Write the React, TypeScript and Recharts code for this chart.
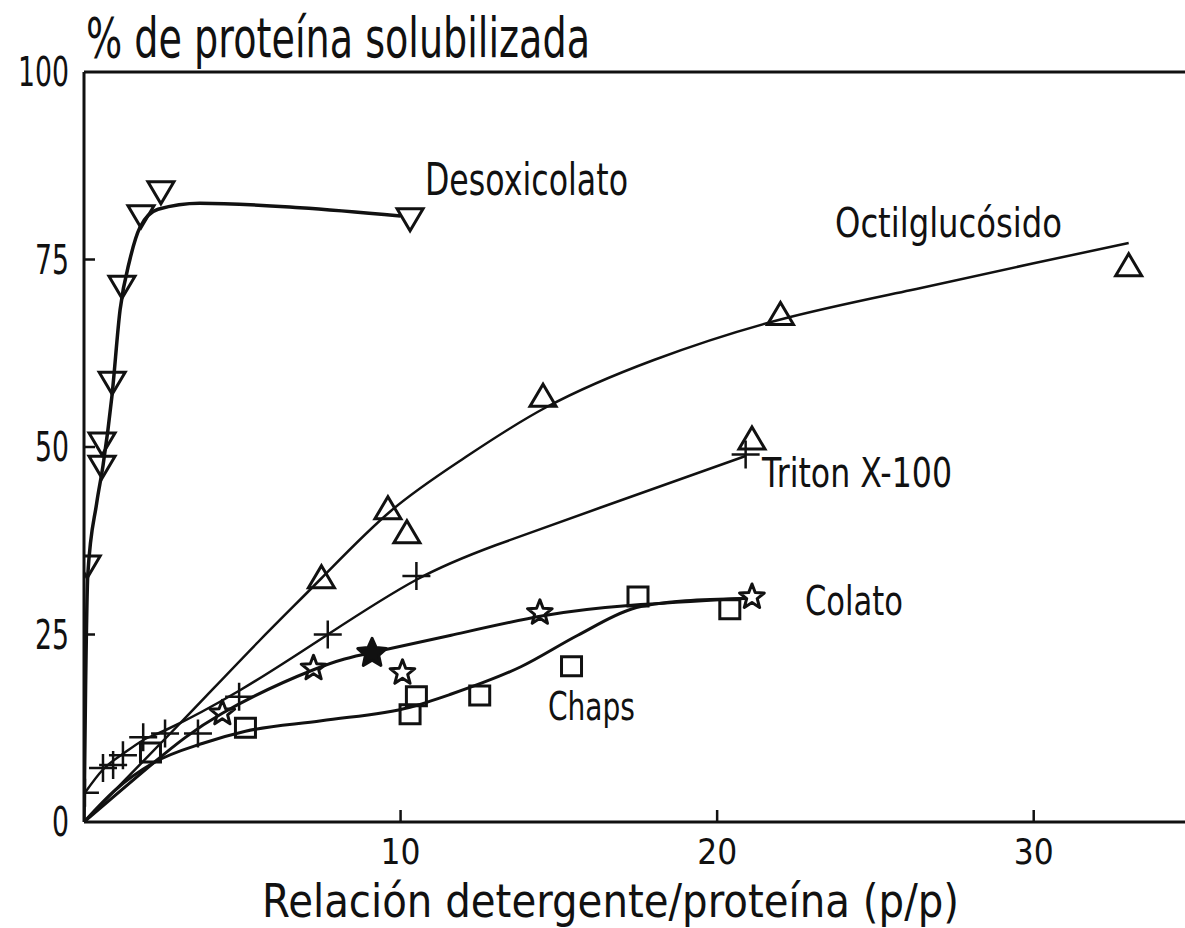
import React from 'react';
import { ComposedChart, Line, Scatter, XAxis, YAxis, ReferenceLine } from 'recharts';

// measured points (x = detergente/proteina, y = % solubilizada)
const desoxPoints = [
  { x: 0.1, y: 34 }, { x: 0.57, y: 50.4 }, { x: 0.57, y: 47.3 }, { x: 0.89, y: 58.5 },
  { x: 1.2, y: 71.3 }, { x: 1.8, y: 80.7 }, { x: 2.43, y: 83.9 }, { x: 10.3, y: 80.3 },
];
const octilPoints = [
  { x: 7.5, y: 32.7 }, { x: 9.6, y: 41.9 }, { x: 10.2, y: 38.7 }, { x: 14.5, y: 56.9 },
  { x: 21.1, y: 51.2 }, { x: 22.0, y: 67.8 }, { x: 33.0, y: 74.3 },
];
const tritonPoints = [
  { x: 0.03, y: 3.9 }, { x: 0.6, y: 7.2 }, { x: 0.92, y: 7.6 }, { x: 1.23, y: 8.9 },
  { x: 1.87, y: 11.3 }, { x: 2.56, y: 11.8 }, { x: 3.6, y: 11.8 }, { x: 4.9, y: 16.7 },
  { x: 7.7, y: 25 }, { x: 10.5, y: 32.8 }, { x: 20.9, y: 49 },
];
const colatoPoints = [
  { x: 4.37, y: 14.5 }, { x: 7.25, y: 20.5 }, { x: 10.06, y: 19.9 }, { x: 14.4, y: 27.9 }, { x: 21.1, y: 30 },
];
const colatoFilled = [{ x: 9.1, y: 22.5 }];
const chapsPoints = [
  { x: 2.1, y: 9.2 }, { x: 5.1, y: 12.5 }, { x: 10.3, y: 14.3 }, { x: 10.5, y: 16.7 },
  { x: 12.5, y: 16.8 }, { x: 15.4, y: 20.7 }, { x: 17.5, y: 30 }, { x: 20.4, y: 28.3 },
];

// hand-drawn fitted curves
const desoxCurve = [
  { x: 0, y: 0 }, { x: 0.05, y: 18 }, { x: 0.12, y: 33 }, { x: 0.4, y: 42.5 }, { x: 0.6, y: 47.5 },
  { x: 0.88, y: 56.7 }, { x: 1.14, y: 68.3 }, { x: 1.45, y: 75 }, { x: 1.77, y: 79.3 },
  { x: 2.34, y: 81.7 }, { x: 3.66, y: 82.5 }, { x: 6.82, y: 81.9 }, { x: 10.0, y: 80.8 },
];
const octilCurve = [
  { x: 0, y: 0 }, { x: 3, y: 13 }, { x: 5.5, y: 24 }, { x: 7.5, y: 32.5 }, { x: 9.7, y: 41.5 },
  { x: 12, y: 48.5 }, { x: 14.6, y: 55.3 }, { x: 18, y: 61.6 }, { x: 22, y: 67 },
  { x: 26.1, y: 70.9 }, { x: 30, y: 74.5 }, { x: 33, y: 77.2 },
];
const tritonCurve = [
  { x: 0.03, y: 3.9 }, { x: 0.6, y: 7 }, { x: 1.2, y: 9 }, { x: 1.9, y: 11 }, { x: 2.6, y: 12.3 },
  { x: 4.9, y: 17.5 }, { x: 7.7, y: 25 }, { x: 10.5, y: 32.3 }, { x: 13, y: 36.9 },
  { x: 16.3, y: 41.9 }, { x: 20.9, y: 48.8 },
];
const colatoCurve = [
  { x: 0, y: 0 }, { x: 2.2, y: 7.9 }, { x: 4.37, y: 14.5 }, { x: 7.25, y: 20.3 },
  { x: 9.1, y: 22.6 }, { x: 11.6, y: 24.9 }, { x: 14.5, y: 27.5 }, { x: 17.3, y: 28.9 }, { x: 20.8, y: 29.8 },
];
const chapsCurve = [
  { x: 0, y: 0 }, { x: 1, y: 4.3 }, { x: 2.2, y: 7.9 }, { x: 3.76, y: 10.5 }, { x: 5.1, y: 12.1 },
  { x: 7.5, y: 13.5 }, { x: 10.3, y: 15.3 }, { x: 11.56, y: 17.0 }, { x: 13.8, y: 20.7 },
  { x: 15.6, y: 24.9 }, { x: 17.3, y: 28.4 }, { x: 19, y: 29.5 }, { x: 20.9, y: 29.8 },
];

const xTicks = [10, 20, 30];
const yTicks = [0, 25, 50, 75, 100];

const FONT = "'DejaVu Sans', 'Liberation Sans', sans-serif";
const INK = '#111';

const triangle = (down: boolean) => (p: any) => {
  const { cx, cy } = p;
  const w = 13, h = 11;
  const d = down
    ? `M${cx - w},${cy - h} L${cx + w},${cy - h} L${cx},${cy + h} Z`
    : `M${cx - w},${cy + h} L${cx + w},${cy + h} L${cx},${cy - h} Z`;
  return <path d={d} fill="none" stroke={INK} strokeWidth={3} />;
};

const square = (p: any) => (
  <rect x={p.cx - 10} y={p.cy - 10} width={20} height={19} fill="none" stroke={INK} strokeWidth={3} />
);

const plus = (p: any) => (
  <g stroke={INK} strokeWidth={2.5}>
    <line x1={p.cx - 14} x2={p.cx + 14} y1={p.cy} y2={p.cy} />
    <line x1={p.cx} x2={p.cx} y1={p.cy - 14} y2={p.cy + 14} />
  </g>
);

const starPath = (cx: number, cy: number, R: number, r: number) => {
  let d = '';
  for (let i = 0; i < 10; i++) {
    const a = -Math.PI / 2 + (i * Math.PI) / 5;
    const rr = i % 2 === 0 ? R : r;
    d += (i === 0 ? 'M' : 'L') + (cx + rr * Math.cos(a)).toFixed(1) + ',' + (cy + rr * Math.sin(a)).toFixed(1);
  }
  return d + 'Z';
};

const star = (filled: boolean) => (p: any) => (
  <path
    d={starPath(p.cx, p.cy, filled ? 15 : 13, filled ? 7 : 5.5)}
    fill={filled ? INK : 'none'}
    stroke={INK}
    strokeWidth={3}
    strokeLinejoin="round"
  />
);

const YTick = (p: any) => {
  const { x, y, payload } = p;
  const v = payload.value;
  const s = String(v);
  return (
    <g>
      {v > 0 && v < 100 && <line x1={x} x2={x + 11} y1={y} y2={y} stroke={INK} strokeWidth={2.5} />}
      <text
        x={x - 15}
        y={y + 14}
        textAnchor="end"
        fontSize={40}
        fontFamily={FONT}
        fill={INK}
        textLength={s.length * 17}
        lengthAdjust="spacingAndGlyphs"
      >
        {s}
      </text>
    </g>
  );
};

const XTick = (p: any) => {
  const { x, y, payload } = p;
  const s = String(payload.value);
  return (
    <g>
      <line x1={x} x2={x} y1={y} y2={y - 12} stroke={INK} strokeWidth={2.5} />
      <text
        x={x}
        y={y + 42}
        textAnchor="middle"
        fontSize={36}
        fontFamily={FONT}
        fill={INK}
        textLength={s.length * 20}
        lengthAdjust="spacingAndGlyphs"
      >
        {s}
      </text>
    </g>
  );
};

const Note = ({ x, y, w, size, children }: any) => (
  <text x={x} y={y} fontSize={size} fontFamily={FONT} fill={INK} textLength={w} lengthAdjust="spacingAndGlyphs">
    {children}
  </text>
);

export default function App() {
  return (
    <div style={{ position: 'absolute', left: 0, top: 0, width: 1185, height: 928, overflow: 'hidden', background: '#fff' }}>
      <ComposedChart width={1192} height={928} margin={{ top: 72, right: 0, bottom: 0, left: 0 }}>
        <XAxis
          type="number"
          dataKey="x"
          domain={[0, 35]}
          ticks={xTicks}
          allowDataOverflow
          axisLine={{ stroke: INK, strokeWidth: 3 }}
          tickLine={false}
          tickSize={0}
          tickMargin={0}
          tick={<XTick />}
          height={106}
        />
        <YAxis
          type="number"
          dataKey="y"
          domain={[0, 100]}
          ticks={yTicks}
          allowDataOverflow
          width={84}
          axisLine={{ stroke: INK, strokeWidth: 3 }}
          tickLine={false}
          tickSize={0}
          tickMargin={0}
          tick={<YTick />}
        />
        <ReferenceLine y={100} stroke={INK} strokeWidth={3} />

        <Line data={desoxCurve} dataKey="y" type="monotone" stroke={INK} strokeWidth={3.5} dot={false} activeDot={false} isAnimationActive={false} />
        <Line data={octilCurve} dataKey="y" type="natural" stroke={INK} strokeWidth={2.5} dot={false} activeDot={false} isAnimationActive={false} />
        <Line data={tritonCurve} dataKey="y" type="natural" stroke={INK} strokeWidth={2.5} dot={false} activeDot={false} isAnimationActive={false} />
        <Line data={colatoCurve} dataKey="y" type="natural" stroke={INK} strokeWidth={3} dot={false} activeDot={false} isAnimationActive={false} />
        <Line data={chapsCurve} dataKey="y" type="monotone" stroke={INK} strokeWidth={3} dot={false} activeDot={false} isAnimationActive={false} />

        <Scatter data={desoxPoints} dataKey="y" shape={triangle(true)} isAnimationActive={false} />
        <Scatter data={octilPoints} dataKey="y" shape={triangle(false)} isAnimationActive={false} />
        <Scatter data={tritonPoints} dataKey="y" shape={plus} isAnimationActive={false} />
        <Scatter data={colatoPoints} dataKey="y" shape={star(false)} isAnimationActive={false} />
        <Scatter data={colatoFilled} dataKey="y" shape={star(true)} isAnimationActive={false} />
        <Scatter data={chapsPoints} dataKey="y" shape={square} isAnimationActive={false} />
      </ComposedChart>

      <svg width={1185} height={928} style={{ position: 'absolute', left: 0, top: 0, pointerEvents: 'none' }}>
        <Note x={86} y={57} w={504} size={56}>% de proteína solubilizada</Note>
        <Note x={262} y={917} w={697} size={47}>Relación detergente/proteína (p/p)</Note>
        <Note x={425} y={195} w={203} size={45}>Desoxicolato</Note>
        <Note x={835} y={237} w={227} size={40}>Octilglucósido</Note>
        <Note x={762} y={487} w={190} size={41}>Triton X-100</Note>
        <Note x={805} y={615} w={98} size={41}>Colato</Note>
        <Note x={548} y={720} w={87} size={39}>Chaps</Note>
      </svg>
    </div>
  );
}
